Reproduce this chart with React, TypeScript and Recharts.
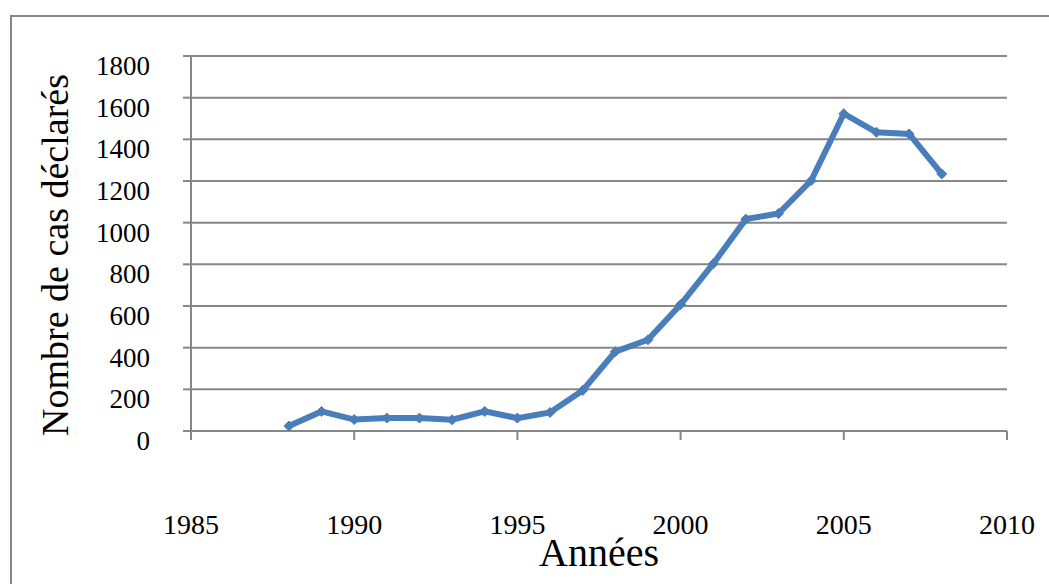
import React from 'react'
import { LineChart, Line, XAxis, YAxis, CartesianGrid } from 'recharts'

const years = [1988, 1989, 1990, 1991, 1992, 1993, 1994, 1995, 1996, 1997, 1998, 1999, 2000, 2001, 2002, 2003, 2004, 2005, 2006, 2007, 2008]
const cases = [24, 94, 55, 62, 62, 54, 94, 62, 89, 195, 381, 438, 607, 803, 1017, 1044, 1202, 1523, 1434, 1426, 1234]
const xTicks = [1985, 1990, 1995, 2000, 2005, 2010]
const yTicks = [0, 200, 400, 600, 800, 1000, 1200, 1400, 1600, 1800]

const data = years.map((year, i) => ({ year, cases: cases[i] }))

const FONT = '"Liberation Serif", "Times New Roman", serif'
const GRID = '#878787'
const BLUE = '#4A7EBB'

const Diamond = (props: any) => {
  const { cx, cy } = props
  if (cx == null || cy == null) return null
  const r = 5
  return (
    <path
      d={`M${cx},${cy - r} L${cx + r},${cy} L${cx},${cy + r} L${cx - r},${cy} Z`}
      fill={BLUE}
      stroke={BLUE}
    />
  )
}

const XTick = (props: any) => {
  const { x, y, payload } = props
  return (
    <text x={x} y={y + 92} textAnchor="middle" fontFamily={FONT} fontSize={28} fill="#000">
      {payload.value}
    </text>
  )
}

const YTick = (props: any) => {
  const { x, y, payload } = props
  return (
    <text x={x - 31} y={y + 19} textAnchor="end" fontFamily={FONT} fontSize={27} fill="#000">
      {payload.value}
    </text>
  )
}

// axis title, centred on the left margin
const YTitle = () => (
  <text
    transform="translate(68, 255) rotate(-90)"
    textAnchor="middle"
    fontFamily={FONT}
    fontSize={38}
    fill="#000"
  >
    Nombre de cas déclarés
  </text>
)

export default function App() {
  return (
    <div style={{ position: 'absolute', top: 0, left: 0, width: 1049, height: 584, background: '#fff' }}>
      <div
        style={{
          position: 'absolute',
          left: 10,
          top: 15,
          width: 1049 - 10,
          height: 584 - 15,
          borderLeft: `2px solid ${GRID}`,
          borderTop: `2px solid ${GRID}`,
          boxSizing: 'border-box'
        }}
      />
      <div style={{ position: 'absolute', top: 0, left: 0 }}>
        <LineChart
          width={1049}
          height={584}
          data={data}
          margin={{ top: 56, right: 42, left: 0, bottom: 0 }}
        >
          <CartesianGrid vertical={false} stroke={GRID} strokeWidth={2} />
          <XAxis
            dataKey="year"
            type="number"
            domain={[1985, 2010]}
            ticks={xTicks}
            height={153}
            stroke={GRID}
            strokeWidth={2}
            tickSize={9}
            tick={<XTick />}
            label={{
              value: 'Années',
              position: 'insideBottom',
              offset: 18,
              style: { fontSize: 40, fill: '#000', fontFamily: FONT }
            }}
          />
          <YAxis
            type="number"
            domain={[0, 1800]}
            ticks={yTicks}
            width={191}
            stroke={GRID}
            strokeWidth={2}
            tickSize={8}
            tick={<YTick />}
            label={{ content: YTitle }}
          />
          <Line
            type="linear"
            dataKey="cases"
            stroke={BLUE}
            strokeWidth={6}
            dot={<Diamond />}
            activeDot={false}
            isAnimationActive={false}
          />
        </LineChart>
      </div>
    </div>
  )
}
